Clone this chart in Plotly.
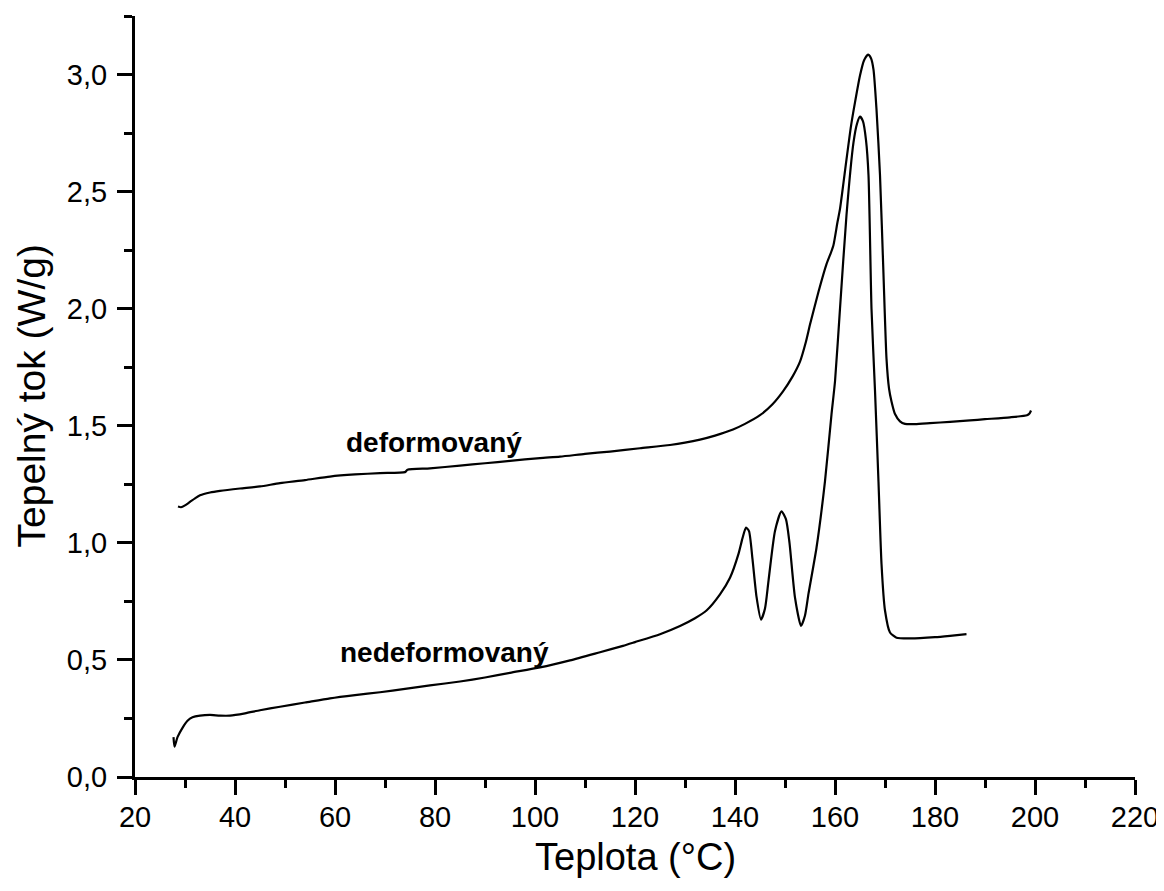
import plotly.graph_objects as go

# ---- data ----
temp_nedef = [27.7, 27.9, 28.5, 29.5, 30.5, 31.5, 33, 35, 37, 39, 42, 45, 49, 54, 59, 64, 69, 74, 79,
              85, 90, 95, 101, 107, 113, 117.6, 120, 125, 129, 132, 134.3, 137, 139, 140.7, 141.5,
              142.2, 142.8, 143.5, 144.3, 145.2, 146, 146.7, 148, 149.3, 150.2, 150.9, 152, 153.2,
              154, 154.7, 156.3, 158, 159.3, 160, 161, 162.3, 163.7, 164.4, 165, 165.6, 166.2, 166.7,
              167.3, 168, 168.7, 169.3, 170, 171, 172.3, 175, 177, 180, 183, 186.3]
flow_nedef = [0.17, 0.13, 0.17, 0.21, 0.24, 0.255, 0.262, 0.265, 0.262, 0.262, 0.272, 0.285, 0.300,
              0.318, 0.336, 0.350, 0.362, 0.376, 0.391, 0.408, 0.425, 0.445, 0.468, 0.498, 0.533,
              0.560, 0.576, 0.610, 0.645, 0.678, 0.711, 0.780, 0.851, 0.953, 1.020, 1.065, 1.050,
              0.930, 0.770, 0.672, 0.720, 0.838, 1.051, 1.135, 1.100, 1.000, 0.766, 0.645, 0.690,
              0.783, 0.979, 1.264, 1.549, 1.689, 2.000, 2.400, 2.710, 2.790, 2.820, 2.800, 2.720,
              2.570, 2.000, 1.650, 1.260, 0.911, 0.711, 0.617, 0.595, 0.592, 0.593, 0.597, 0.603, 0.610]

temp_def = [28.6, 29.2, 30, 31, 32, 33, 35, 37, 41, 45, 49, 54, 59, 64, 69, 74, 74.5, 79, 85, 90, 95,
            101, 105, 110, 115, 121, 127, 130, 133, 136, 139.6, 142, 145, 147.5, 149.6, 151.5, 153,
            154.2, 155, 156.7, 158.3, 159.2, 159.7, 160.5, 161, 162.3, 163.2, 164, 165, 165.8, 166.6,
            167.2, 167.7, 168.3, 169, 169.7, 170.3, 170.8, 171.3, 172, 173, 174, 176, 179, 183, 187,
            190, 195, 198.4, 198.9, 199.2]
flow_def = [1.155, 1.152, 1.160, 1.175, 1.190, 1.203, 1.215, 1.222, 1.232, 1.241, 1.255, 1.268, 1.283,
            1.292, 1.298, 1.302, 1.312, 1.318, 1.330, 1.340, 1.350, 1.362, 1.368, 1.380, 1.390, 1.404,
            1.418, 1.428, 1.441, 1.458, 1.484, 1.508, 1.545, 1.592, 1.647, 1.710, 1.774, 1.860, 1.932,
            2.072, 2.190, 2.240, 2.272, 2.370, 2.426, 2.638, 2.780, 2.881, 2.996, 3.060, 3.085, 3.070,
            3.021, 2.851, 2.570, 2.145, 1.787, 1.660, 1.604, 1.550, 1.519, 1.508, 1.507, 1.511, 1.517,
            1.523, 1.528, 1.536, 1.545, 1.552, 1.565]

labels = ["deformovaný", "nedeformovaný"]
label_x = [79.8, 81.8]
label_y = [1.43, 0.532]

x_ticks = list(range(20, 221, 20))
x_minor = list(range(30, 221, 20))
y_ticks = [0.0, 0.5, 1.0, 1.5, 2.0, 2.5, 3.0]
y_minor = [0.25, 0.75, 1.25, 1.75, 2.25, 2.75, 3.25]

x_title = "Teplota (°C)"
y_title = "Tepelný tok (W/g)"

FONT = "Liberation Sans, Arial, sans-serif"

fig = go.Figure()
fig.add_trace(go.Scatter(x=temp_def, y=flow_def, mode="lines",
                         line=dict(color="black", width=2.2, shape="spline", smoothing=0.6),
                         showlegend=False, cliponaxis=False))
fig.add_trace(go.Scatter(x=temp_nedef, y=flow_nedef, mode="lines",
                         line=dict(color="black", width=2.2, shape="spline", smoothing=0.6),
                         showlegend=False, cliponaxis=False))

for t, lx, ly in zip(labels, label_x, label_y):
    fig.add_annotation(x=lx, y=ly, text="<b>%s</b>" % t, showarrow=False,
                       font=dict(family=FONT, size=28, color="black"),
                       xanchor="center", yanchor="middle")

# axis titles placed in pixel terms relative to the plot area
fig.add_annotation(x=0.5, xref="paper", y=0, yref="paper", yshift=-80, text=x_title,
                   showarrow=False, xanchor="center", yanchor="middle",
                   font=dict(family=FONT, size=38, color="black"))
fig.add_annotation(x=0, xref="paper", y=0.5, yref="paper", xshift=-104, text=y_title,
                   showarrow=False, xanchor="center", yanchor="middle", textangle=-90,
                   font=dict(family=FONT, size=39, color="black"))

axis_common = dict(showline=True, linewidth=3, linecolor="black", showgrid=False, zeroline=False,
                   ticks="outside", ticklen=15, tickwidth=3, tickcolor="black", automargin=False,
                   tickfont=dict(family=FONT, size=29, color="black"), mirror=False)

# the page body adds an 8 px offset, so the figure is sized to fit inside the window
fig.update_layout(
    width=1156, height=883,
    margin=dict(l=127, r=29, t=8, b=114, autoexpand=False),
    paper_bgcolor="white", plot_bgcolor="white",
    separators=",.",
    xaxis=dict(range=[20, 220], tickmode="array", tickvals=x_ticks, ticklabelstandoff=-3,
               minor=dict(tickmode="array", tickvals=x_minor, ticklen=8, tickwidth=3,
                          tickcolor="black", ticks="outside"),
               **axis_common),
    yaxis=dict(range=[0, 3.25], tickmode="array", tickvals=y_ticks, tickformat=".1f",
               ticklabelstandoff=4,
               minor=dict(tickmode="array", tickvals=y_minor, ticklen=8, tickwidth=3,
                          tickcolor="black", ticks="outside"),
               **axis_common),
)

fig.write_html("out.html")
